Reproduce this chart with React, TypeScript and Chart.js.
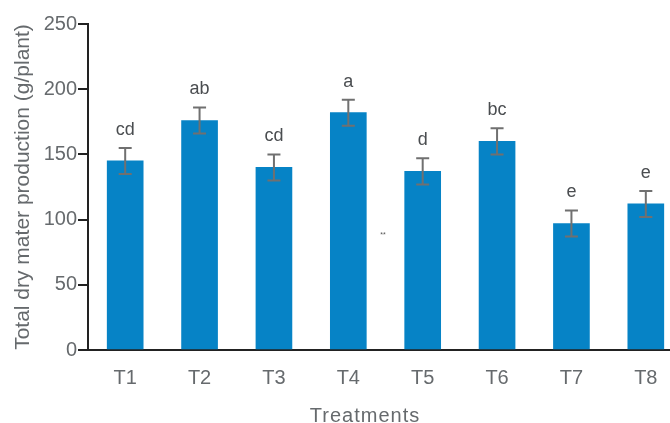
import React, { useEffect, useRef } from "react";
import { Chart, registerables } from "chart.js";

Chart.register(...registerables);

// Dry matter per plant for each treatment, with standard error and significance letters
const treatments = ["T1", "T2", "T3", "T4", "T5", "T6", "T7", "T8"];
const dryMatter = [145, 176, 140, 182, 137, 160, 97, 112];
const stdError = [10, 10, 10, 10, 10, 10, 10, 10];
const groupLetters = ["cd", "ab", "cd", "a", "d", "bc", "e", "e"];
const yTicks = [0, 50, 100, 150, 200, 250];

const FONT = "'Liberation Sans', Arial, sans-serif";
const TEXT_GREY = "#666a6d";
const AXIS_DARK = "#222222";

const errorBarPlugin = {
  id: "errorBars",
  afterDatasetsDraw(chart: any) {
    const { ctx, scales } = chart;
    const meta = chart.getDatasetMeta(0);
    const y = scales.y;
    ctx.save();
    ctx.strokeStyle = "#707070";
    ctx.lineWidth = 2;
    meta.data.forEach((bar: any, i: number) => {
      const x = bar.x;
      const hi = y.getPixelForValue(dryMatter[i] + stdError[i]);
      const lo = y.getPixelForValue(dryMatter[i] - stdError[i]);
      const cap = 6.5;
      ctx.beginPath();
      ctx.moveTo(x, hi);
      ctx.lineTo(x, lo);
      ctx.moveTo(x - cap, hi);
      ctx.lineTo(x + cap, hi);
      ctx.moveTo(x - cap, lo);
      ctx.lineTo(x + cap, lo);
      ctx.stroke();
    });
    // significance letters above each error bar
    ctx.fillStyle = "#4a4d50";
    ctx.font = `18px ${FONT}`;
    ctx.textAlign = "center";
    ctx.textBaseline = "alphabetic";
    meta.data.forEach((bar: any, i: number) => {
      const hi = y.getPixelForValue(dryMatter[i] + stdError[i]);
      ctx.fillText(groupLetters[i], bar.x, hi - 13);
    });
    ctx.restore();
  },
};

const axisTitlePlugin = {
  id: "xAxisTitle",
  afterDraw(chart: any) {
    const { ctx } = chart;
    ctx.save();
    ctx.fillStyle = TEXT_GREY;
    ctx.font = `20px ${FONT}`;
    (ctx as any).letterSpacing = "1px";
    ctx.textAlign = "center";
    ctx.textBaseline = "alphabetic";
    ctx.fillText("Treatments", 365, 422);
    (ctx as any).letterSpacing = "0px";
    ctx.fillStyle = "#555555";
    ctx.font = `7px ${FONT}`;
    ctx.fillText("**", 383, 237);
    ctx.restore();
  },
};

export default function App() {
  const canvasRef = useRef<HTMLCanvasElement | null>(null);

  useEffect(() => {
    const canvas = canvasRef.current;
    if (!canvas) return;
    const chart = new Chart(canvas, {
      type: "bar",
      data: {
        labels: treatments,
        datasets: [
          {
            data: dryMatter,
            backgroundColor: "#0683c6",
            borderWidth: 0,
            barThickness: 36,
          },
        ],
      },
      options: {
        responsive: false,
        animation: false,
        devicePixelRatio: 1,
        layout: { padding: { top: 24, right: 0, left: 0, bottom: 0 } },
        plugins: {
          legend: { display: false },
          tooltip: { enabled: false },
        },
        scales: {
          x: {
            afterFit: (scale: any) => {
              scale.height = 73;
            },
            grid: { display: false, drawTicks: false },
            border: { display: true, color: AXIS_DARK, width: 2 },
            ticks: {
              color: TEXT_GREY,
              font: { family: FONT, size: 20 },
              padding: 16,
            },
          },
          y: {
            min: 0,
            max: 250,
            afterFit: (scale: any) => {
              scale.width = 88;
            },
            afterBuildTicks: (scale: any) => {
              scale.ticks = yTicks.map((v) => ({ value: v }));
            },
            grid: {
              drawOnChartArea: false,
              drawTicks: true,
              tickLength: 10,
              color: AXIS_DARK,
              lineWidth: 2,
            },
            border: { display: true, color: AXIS_DARK, width: 2 },
            ticks: {
              color: TEXT_GREY,
              font: { family: FONT, size: 20 },
              padding: 1,
            },
            title: {
              display: true,
              text: "Total dry mater production (g/plant)",
              color: TEXT_GREY,
              font: { family: FONT, size: 21 },
              padding: { top: 11, bottom: 0 },
            },
          },
        },
      },
      plugins: [errorBarPlugin, axisTitlePlugin],
    });
    return () => chart.destroy();
  }, []);

  return (
    <div
      style={{
        position: "absolute",
        left: 0,
        top: 0,
        width: 670,
        height: 423,
        overflow: "hidden",
        background: "#ffffff",
      }}
    >
      <canvas ref={canvasRef} width={683} height={423} style={{ width: 683, height: 423 }} />
    </div>
  );
}
